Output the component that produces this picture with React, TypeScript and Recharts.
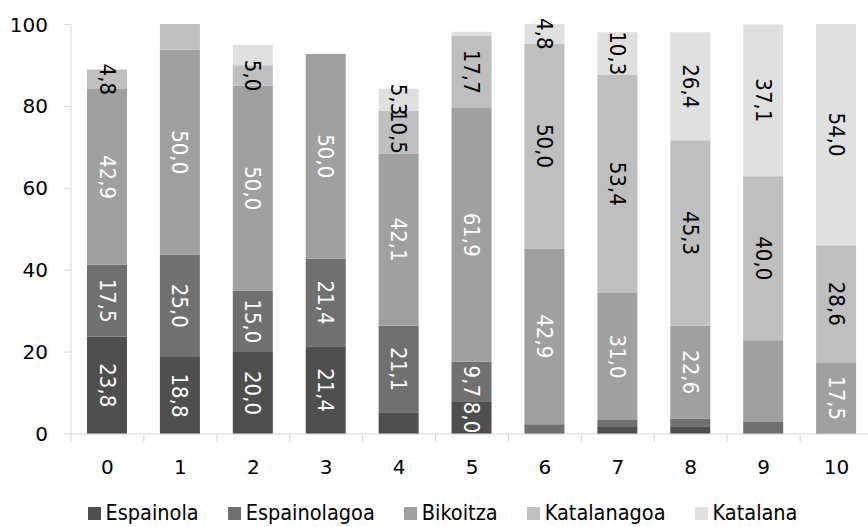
import React from 'react';
import { BarChart, Bar, XAxis, YAxis, Legend, LabelList } from 'recharts';

document.body.style.margin = '0';

const FONT = "'DejaVu Sans', sans-serif";
const NARROW_FONT = "'DejaVu Sans Condensed', 'DejaVu Sans', sans-serif";

const categories = ['0', '1', '2', '3', '4', '5', '6', '7', '8', '9', '10'];
const espainola = [23.8, 18.8, 20.0, 21.4, 5.3, 8.0, 0, 1.7, 1.9, 0, 0];
const espainolagoa = [17.5, 25.0, 15.0, 21.4, 21.1, 9.7, 2.4, 1.7, 1.9, 2.9, 0];
const bikoitza = [42.9, 50.0, 50.0, 50.0, 42.1, 61.9, 42.9, 31.0, 22.6, 20.0, 17.5];
const katalanagoa = [4.8, 6.3, 5.0, 0, 10.5, 17.7, 50.0, 53.4, 45.3, 40.0, 28.6];
const katalana = [0, 0, 5.0, 0, 5.3, 0.9, 4.8, 10.3, 26.4, 37.1, 54.0];
const yTicks = [0, 20, 40, 60, 80, 100];

// bars whose label is not shown in the original (small segments are dropped too)
const hiddenLabels: Record<string, number[]> = {
  Espainola: [4],
  Espainolagoa: [],
  Bikoitza: [9],
  Katalanagoa: [1],
  Katalana: [2],
};

const series = [
  { key: 'Espainola', values: espainola, color: '#4f4f4f', text: '#ffffff' },
  { key: 'Espainolagoa', values: espainolagoa, color: '#707070', text: '#ffffff' },
  { key: 'Bikoitza', values: bikoitza, color: '#a0a0a0', text: '#ffffff' },
  { key: 'Katalanagoa', values: katalanagoa, color: '#bfbfbf', text: '#000000' },
  { key: 'Katalana', values: katalana, color: '#e0e0e0', text: '#000000' },
];

const rows = categories.map((name, i) => {
  const row: any = { name };
  series.forEach(s => {
    const v = s.values[i];
    row[s.key] = v;
    row[`${s.key}Label`] = v >= 4 && !hiddenLabels[s.key].includes(i) ? v.toFixed(1).replace('.', ',') : '';
  });
  return row;
});

const makeLabel = (fill: string) => (props: any) => {
  const { x, y, width, height, value } = props;
  if (!value) return null;
  const cx = Number(x) + Number(width) / 2;
  const cy = Number(y) + Number(height) / 2;
  return (
    <text
      x={cx}
      y={cy}
      fill={fill}
      fontSize={22}
      fontFamily={NARROW_FONT}
      textAnchor="middle"
      dominantBaseline="central"
      transform={`rotate(90, ${cx}, ${cy})`}
    >
      {value}
    </text>
  );
};

const XTick = (props: any) => {
  const { x, y, width, visibleTicksCount, payload } = props;
  const half = Number(width) / (visibleTicksCount || categories.length) / 2;
  return (
    <g>
      <line x1={x - half} y1={y} x2={x - half} y2={y + 8} stroke="#d9d9d9" strokeWidth={1} />
      <text x={x} y={y + 40} textAnchor="middle" fill="#000" fontSize={20} fontFamily={FONT}>
        {payload.value}
      </text>
    </g>
  );
};

const LegendContent = () => (
  <div
    style={{
      display: 'flex',
      justifyContent: 'center',
      alignItems: 'center',
      height: 28,
      paddingLeft: 17,
      fontFamily: NARROW_FONT,
      fontSize: 21.5,
      color: '#000',
    }}
  >
    {series.map((s, i) => (
      <div key={s.key} style={{ display: 'flex', alignItems: 'center', marginLeft: i === 0 ? 0 : 29 }}>
        <div style={{ width: 13, height: 13, background: s.color, marginRight: 5 }} />
        <span style={{ lineHeight: '28px' }}>{s.key}</span>
      </div>
    ))}
  </div>
);

export default function App() {
  return (
    <div style={{ width: 868, height: 527, overflow: 'hidden', position: 'relative', background: '#fff' }}>
      <BarChart width={873} height={527} data={rows} margin={{ top: 24, right: 0, bottom: 0, left: 0 }} barSize={40}>
        <XAxis
          dataKey="name"
          height={65}
          tickSize={0}
          tickMargin={0}
          tickLine={false}
          axisLine={{ stroke: '#d9d9d9' }}
          tick={<XTick />}
          interval={0}
        />
        <YAxis
          width={71}
          domain={[0, 100]}
          ticks={yTicks}
          tickSize={7}
          tickMargin={16}
          axisLine={{ stroke: '#d9d9d9' }}
          tickLine={{ stroke: '#d9d9d9' }}
          tick={{ fill: '#000', fontSize: 20, fontFamily: FONT }}
          interval={0}
        />
        <Legend
          verticalAlign="bottom"
          content={<LegendContent />}
          wrapperStyle={{ height: 28, width: 868, left: 0, bottom: 0 }}
        />
        {series.map(s => (
          <Bar key={s.key} dataKey={s.key} stackId="a" fill={s.color} isAnimationActive={false}>
            <LabelList dataKey={`${s.key}Label`} content={makeLabel(s.text)} />
          </Bar>
        ))}
      </BarChart>
    </div>
  );
}
